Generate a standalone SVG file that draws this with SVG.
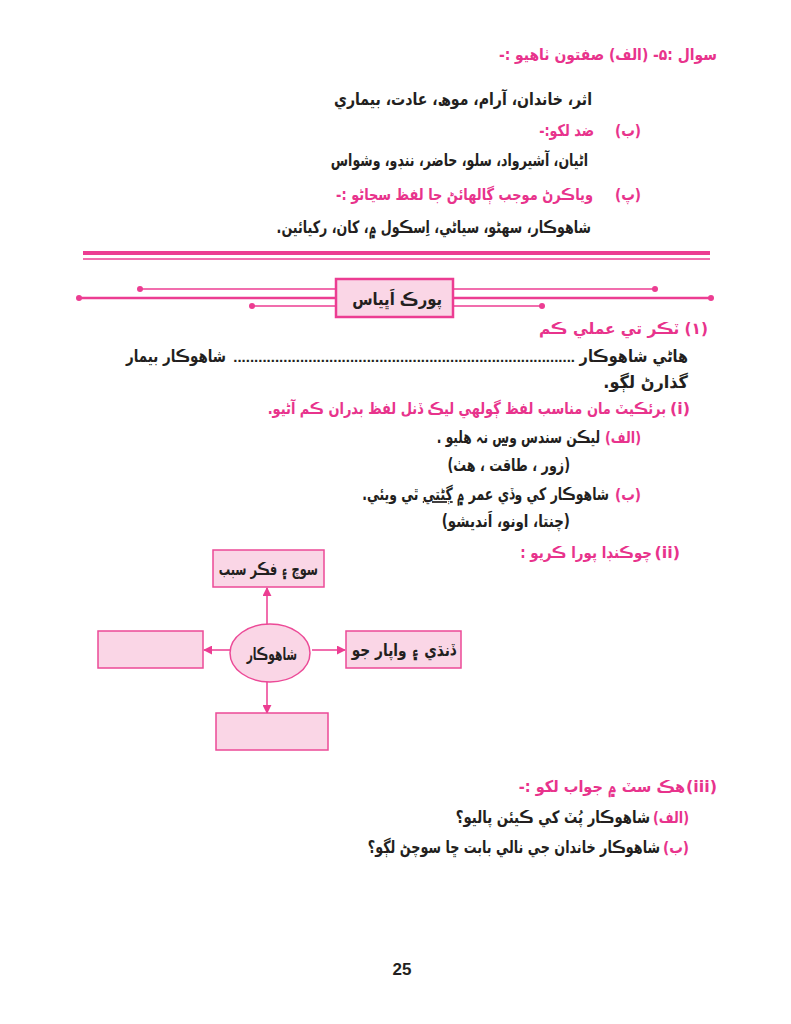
<svg xmlns="http://www.w3.org/2000/svg" width="791" height="1024" viewBox="0 0 791 1024">
<defs>
<style>
.t{font-family:"DejaVu Sans","Noto Sans",sans-serif;font-weight:bold;font-size:17px;fill:#231f20;text-anchor:end}
.p{fill:#e8338c;font-size:16px}
.box{fill:#fad6e6;stroke:#ec4a97;stroke-width:1.5}
.ln{stroke:#ec3d92;fill:none}
.dot{fill:#ec3d92}
.con{stroke:#ec3d92;stroke-width:1.5;fill:none;marker-end:url(#ah)}
</style>
<marker id="ah" viewBox="0 0 10 10" refX="9" refY="5" markerWidth="9" markerHeight="9" markerUnits="userSpaceOnUse" orient="auto">
<path d="M0,0 L10,5 L0,10 z" fill="#ec3d92"/>
</marker>
</defs>
<rect width="791" height="1024" fill="#ffffff"/>

<!-- Question 5 -->
<text class="t p" transform="translate(717,60) scale(0.87,1)">&#x200F;سوال :۵-  (الف)   صفتون ٺاهيو :-&#x200F;</text>
<text class="t" transform="translate(592,105) scale(0.83,1)">&#x200F;اثر، خاندان، آرام، موھ، عادت، بيماري&#x200F;</text>
<text class="t p" transform="translate(641,136) scale(0.85,1)" font-size="15">&#x200F;(ب)&#x200F;</text>
<text class="t p" transform="translate(594,136) scale(0.8,1)" font-size="14">&#x200F;ضد لکو:-&#x200F;</text>
<text class="t" transform="translate(588,166) scale(0.74,1)">&#x200F;اڻيان، آشيرواد، سلو، حاضر، ننڊو، وشواس&#x200F;</text>
<text class="t p" transform="translate(641,200) scale(0.85,1)" font-size="15">&#x200F;(پ)&#x200F;</text>
<text class="t p" transform="translate(593,200) scale(0.81,1)">&#x200F;وياڪرڻ موجب ڳالهائڻ  جا لفظ سڃاڻو :-&#x200F;</text>
<text class="t" transform="translate(591,233) scale(0.745,1)">&#x200F;شاهوڪار، سهڻو، سياڻي، اِسڪول ۾، کان، رکيائين.&#x200F;</text>

<!-- separator -->
<line class="ln" x1="83" y1="253" x2="710" y2="253" stroke-width="4"/>
<line class="ln" x1="83" y1="259" x2="710" y2="259" stroke-width="1.5"/>

<!-- heading ornament -->
<g id="heading">
<line class="ln" x1="79" y1="298" x2="711" y2="298" stroke-width="2.5"/>
<line class="ln" x1="140" y1="289" x2="655" y2="289" stroke-width="1.5"/>
<line class="ln" x1="252" y1="306" x2="542" y2="306" stroke-width="1.5"/>
<circle class="dot" cx="79" cy="298" r="3"/>
<circle class="dot" cx="711" cy="298" r="3"/>
<circle class="dot" cx="140" cy="289" r="3"/>
<circle class="dot" cx="655" cy="289" r="3"/>
<circle class="dot" cx="252" cy="306" r="3"/>
<circle class="dot" cx="542" cy="306" r="3"/>
<rect x="336" y="279" width="117" height="38" fill="#fad6e6" stroke="#ec3d92" stroke-width="2.5"/>
<text class="t" transform="translate(442,305) scale(0.87,1)" font-size="21">&#x200F;پورڪ اَڀياس&#x200F;</text>
</g>

<text class="t p" transform="translate(708,334) scale(0.96,1)">&#x200F;(۱) ٽڪر تي عملي ڪم&#x200F;</text>
<text class="t" transform="translate(688,362) scale(0.85,1)">&#x200F;هاڻي شاهوڪار&#x200F;</text>
<text x="575" y="362" text-anchor="end" font-family="Liberation Sans, Arial, sans-serif" font-weight="bold" font-size="15" fill="#231f20">..................................................................................</text>
<text class="t" transform="translate(226,362) scale(0.79,1)">&#x200F;شاهوڪار بيمار&#x200F;</text>
<text class="t" transform="translate(688,388) scale(0.95,1)" font-size="15">&#x200F;گذارڻ لڳو.&#x200F;</text>

<text class="t p" x="690" y="414" font-size="15">(i)</text>
<text class="t p" transform="translate(666,414) scale(0.81,1)">&#x200F;برئڪيٽ مان  مناسب لفظ ڳولهي ليڪ ڏنل لفظ بدران ڪم آڻيو.&#x200F;</text>

<text class="t p" transform="translate(641,443) scale(0.8,1)" font-size="15">&#x200F;(الف)&#x200F;</text>
<text class="t" transform="translate(600,443) scale(0.72,1)">&#x200F;ليڪن سندس <tspan text-decoration="underline">وس</tspan> نہ هليو .&#x200F;</text>
<text class="t" transform="translate(570,471) scale(0.75,1)" font-size="16">&#x200F;(زور ، طاقت ، هٺ)&#x200F;</text>
<text class="t p" transform="translate(641,500) scale(0.85,1)" font-size="15">&#x200F;(ب)&#x200F;</text>
<text class="t" transform="translate(609,500) scale(0.73,1)">&#x200F;شاهوڪار کي وڏي عمر ۾ <tspan text-decoration="underline">ڳڻتي</tspan> ٿي ويئي.&#x200F;</text>
<text class="t" transform="translate(570,527) scale(0.79,1)" font-size="16">&#x200F;(چنتا، اونو، اَنديشو)&#x200F;</text>

<text class="t p" x="680" y="558" font-size="15">(ii)</text>
<text class="t p" transform="translate(652,558) scale(0.84,1)">&#x200F;چوڪنڊا پورا ڪريو :&#x200F;</text>

<!-- diagram connectors -->
<g id="connectors">
<line class="con" x1="267" y1="625" x2="267" y2="588"/>
<line class="con" x1="231" y1="650" x2="204" y2="650"/>
<line class="con" x1="312" y1="650" x2="345" y2="650"/>
<line class="con" x1="267" y1="682" x2="267" y2="713"/>
</g>

<g id="node-center">
<ellipse class="box" cx="270" cy="653" rx="40" ry="29"/>
<text class="t" transform="translate(297,660) scale(0.63,1)">&#x200F;شاهوڪار&#x200F;</text>
</g>
<g id="node-top">
<rect class="box" x="213" y="550" width="111" height="37"/>
<text class="t" transform="translate(318,575) scale(0.67,1)">&#x200F;سوچ ۽ فڪر سبب&#x200F;</text>
</g>
<g id="node-right">
<rect class="box" x="346" y="631" width="115" height="37"/>
<text class="t" transform="translate(456,656) scale(0.81,1)">&#x200F;ڏنڌي ۽ واپار جو&#x200F;</text>
</g>
<g id="node-left">
<rect class="box" x="98" y="631" width="105" height="37"/>
</g>
<g id="node-bottom">
<rect class="box" x="216" y="713" width="112" height="37"/>
</g>

<text class="t p" x="717" y="792" font-size="15">(iii)</text>
<text class="t p" transform="translate(685,792) scale(0.91,1)">&#x200F;هڪ سٽ ۾ جواب لکو :-&#x200F;</text>
<text class="t p" transform="translate(689,823) scale(0.8,1)" font-size="15">&#x200F;(الف)&#x200F;</text>
<text class="t" transform="translate(650,823) scale(0.78,1)">&#x200F;شاهوڪار پُٽ کي ڪيئن پاليو؟&#x200F;</text>
<text class="t p" transform="translate(689,853) scale(0.85,1)" font-size="15">&#x200F;(ب)&#x200F;</text>
<text class="t" transform="translate(660,853) scale(0.75,1)">&#x200F;شاهوڪار خاندان جي نالي بابت ڇا سوچڻ لڳو؟&#x200F;</text>

<text x="402" y="975" text-anchor="middle" font-family="Liberation Sans, Arial, sans-serif" font-weight="bold" font-size="17" fill="#231f20">25</text>
</svg>
